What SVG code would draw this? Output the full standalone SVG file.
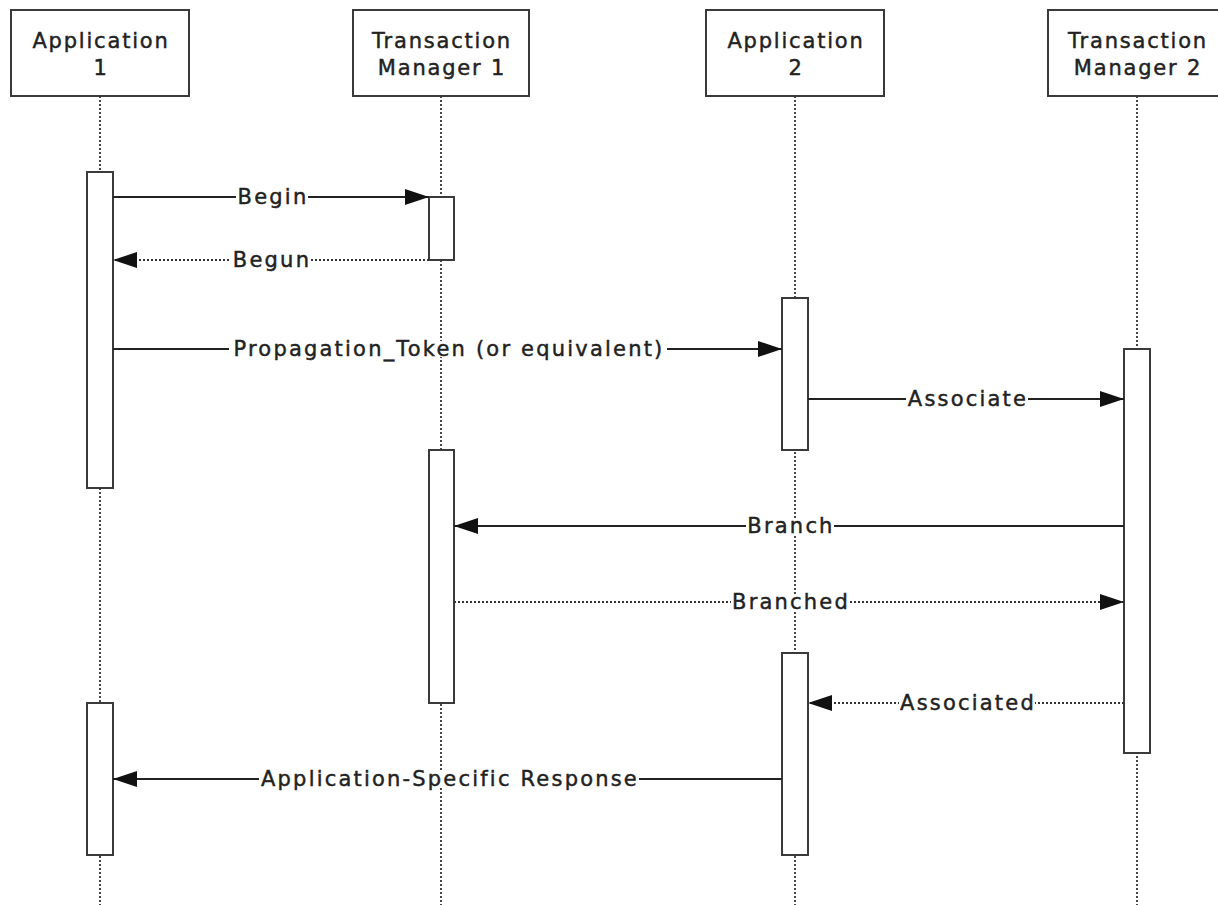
<svg xmlns="http://www.w3.org/2000/svg" width="1218" height="905" viewBox="0 0 1218 905">
<defs>
<style>
.box{fill:#fff;stroke:#3a3a3a;stroke-width:2}
.act{fill:#fff;stroke:#3a3a3a;stroke-width:2}
.life{stroke:#333;stroke-width:1.8;stroke-dasharray:2,2;fill:none}
.msg{stroke:#222;stroke-width:1.8;fill:none}
.dot{stroke:#333;stroke-width:1.8;fill:none;stroke-dasharray:2,2}
text{font-family:"DejaVu Sans",Verdana,sans-serif;font-size:21px;fill:#222;stroke:#222;stroke-width:0.45;letter-spacing:2.2px;text-anchor:middle}
.hd{letter-spacing:1.8px}
.bg{fill:#fff}
</style>
<marker id="ah" viewBox="0 0 24 16" refX="24" refY="8" markerWidth="24" markerHeight="16" markerUnits="userSpaceOnUse" orient="auto">
<path d="M0,0 L24,8 L0,16 Z" fill="#111"/>
</marker>
</defs>
<rect width="1218" height="905" fill="#fff"/>
<g id="lifelines">
<line class="life" x1="100" y1="96" x2="100" y2="905"/>
<line class="life" x1="441" y1="96" x2="441" y2="905"/>
<line class="life" x1="795" y1="96" x2="795" y2="905"/>
<line class="life" x1="1137" y1="96" x2="1137" y2="905"/>
</g>
<g id="app1">
<rect class="box" x="11" y="10" width="178" height="86"/>
<text class="hd" x="101" y="48">Application</text>
<text class="hd" x="101" y="75">1</text>
</g>
<g id="tm1">
<rect class="box" x="353" y="10" width="176" height="86"/>
<text class="hd" x="442" y="48">Transaction</text>
<text class="hd" x="442" y="75">Manager 1</text>
</g>
<g id="app2">
<rect class="box" x="706" y="10" width="178" height="86"/>
<text class="hd" x="796" y="48">Application</text>
<text class="hd" x="796" y="75">2</text>
</g>
<g id="tm2">
<rect class="box" x="1048" y="10" width="178" height="86"/>
<text class="hd" x="1138" y="48">Transaction</text>
<text class="hd" x="1138" y="75">Manager 2</text>
</g>
<g id="activations">
<rect class="act" x="87" y="172" width="26" height="316"/>
<rect class="act" x="87" y="703" width="26" height="152"/>
<rect class="act" x="429" y="197" width="25" height="63"/>
<rect class="act" x="429" y="450" width="25" height="253"/>
<rect class="act" x="782" y="298" width="26" height="152"/>
<rect class="act" x="782" y="653" width="26" height="202"/>
<rect class="act" x="1124" y="349" width="26" height="404"/>
</g>
<g id="connectors">
<line class="msg" x1="113" y1="197" x2="429" y2="197" marker-end="url(#ah)"/>
<rect class="bg" x="236" y="189" width="72" height="16"/>
<text x="273" y="204">Begin</text>
<line class="dot" x1="429" y1="260" x2="113" y2="260" marker-end="url(#ah)"/>
<rect class="bg" x="231" y="252" width="80" height="16"/>
<text x="272" y="267">Begun</text>
<line class="msg" x1="113" y1="349" x2="782" y2="349" marker-end="url(#ah)"/>
<rect class="bg" x="229" y="341" width="438" height="16"/>
<text x="449" y="356">Propagation_Token (or equivalent)</text>
<line class="msg" x1="808" y1="399" x2="1124" y2="399" marker-end="url(#ah)"/>
<rect class="bg" x="906" y="391" width="122" height="16"/>
<text x="968" y="406">Associate</text>
<line class="msg" x1="1124" y1="526" x2="454" y2="526" marker-end="url(#ah)"/>
<rect class="bg" x="746" y="518" width="88" height="16"/>
<text x="791" y="533">Branch</text>
<line class="dot" x1="454" y1="602" x2="1124" y2="602" marker-end="url(#ah)"/>
<rect class="bg" x="731" y="594" width="118" height="16"/>
<text x="791" y="609">Branched</text>
<line class="dot" x1="1124" y1="703" x2="808" y2="703" marker-end="url(#ah)"/>
<rect class="bg" x="899" y="695" width="136" height="16"/>
<text x="968" y="710">Associated</text>
<line class="msg" x1="782" y1="779" x2="113" y2="779" marker-end="url(#ah)"/>
<rect class="bg" x="259" y="771" width="380" height="16"/>
<text x="450" y="786">Application-Specific Response</text>
</g>
</svg>
